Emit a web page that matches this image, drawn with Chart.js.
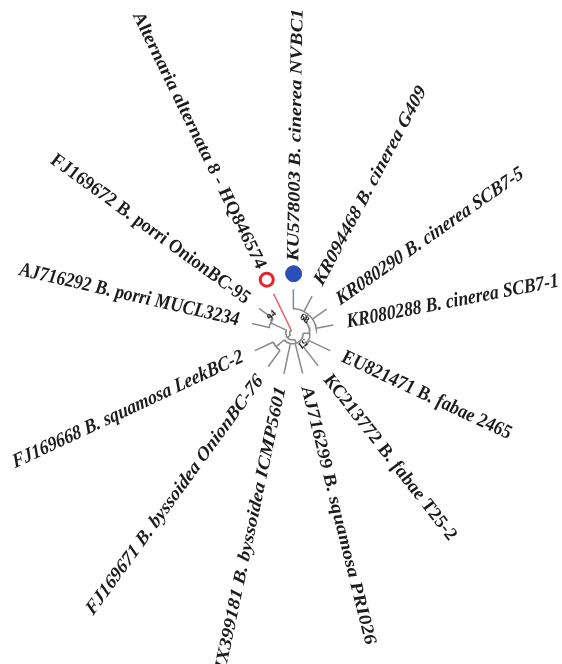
<!DOCTYPE html>
<html>
<head>
<meta charset="utf-8">
<script src="https://cdn.jsdelivr.net/npm/chart.js@4.4.1/dist/chart.umd.min.js"></script>
<style>
  html, body { margin: 0; padding: 0; background: #fff; }
  #wrap { width: 562px; height: 664px; }
</style>
</head>
<body>
<div id="wrap"><canvas id="tree" width="562" height="664"></canvas></div>
<script>
// leaves of the tree, clockwise from the top
var leafNames = [
  'KU578003 B. cinerea NVBC1',
  'KR094468 B. cinerea G409',
  'KR080290 B. cinerea SCB7-5',
  'KR080288 B. cinerea SCB7-1',
  'EU821471 B. fabae 2465',
  'KC213772 B. fabae T25-2',
  'AJ716299 B. squamosa PRI026',
  'JX399181 B. byssoidea ICMP5601',
  'FJ169671 B. byssoidea OnionBC-76',
  'FJ169668 B. squamosa LeekBC-2',
  'AJ716292 B. porri MUCL3234',
  'FJ169672 B. porri OnionBC-95',
  'Alternaria alternata 8 - HQ846574'
];
// angle of each leaf, degrees clockwise from 3 o'clock
var leafAngles = [-89, -62, -35, -11, 25, 52, 76, 102, 126, 155, 193, 216, 244];

// clades: depth from the root and their members (leaf index or clade name)
var cladeNames   = ['cinerea', 'fabae', 'byssoidea', 'core', 'porri', 'ingroup', 'root'];
var cladeDepths  = [25, 18, 22, 11, 25, 7, 3];
var cladeMembers = [[0, 1, 2, 3], [4, 5, 'cinerea'], [8, 9], [6, 7, 'byssoidea', 'fabae'],
                    [10, 11], ['core', 'porri'], ['ingroup', 12]];
var bootstrapClade = ['cinerea', 'fabae', 'porri'];
var bootstrapValue = ['68', '51', '94'];

// look
var tipDepth = 43, markedTipDepth = 45, markerDepth = 61;
var labelDepth = 57, markedLabelDepth = 74;
var textStretch = 1.17;
var branchColor = '#8a8a8a';
var bootPos = { cinerea: [-50, 19], fabae: [47, 15], porri: [220, 28] };

var rad = function(a){ return a * Math.PI / 180 }
var pt = function(r, a){ return { x: r * Math.cos(rad(a)), y: r * Math.sin(rad(a)) } }
var isMarked = function(i){ return i === 0 || i === 12 }

var cladeAngle = {}, cladeSpan = {};
function memberAngle(m){
  return typeof m === 'number' ? leafAngles[m] : cladeAngle[m];
}
function memberDepth(m){
  if (typeof m === 'number') return isMarked(m) ? markedTipDepth : tipDepth;
  return cladeDepths[cladeNames.indexOf(m)];
}
cladeNames.forEach(function(name, i){
  var angs = cladeMembers[i].map(memberAngle);
  var lo = Math.min.apply(null, angs), hi = Math.max.apply(null, angs);
  cladeSpan[name] = [lo, hi];
  cladeAngle[name] = (lo + hi) / 2;
});

var datasets = [];
function addLine(points, color, width){
  datasets.push({ data: points, showLine: true, borderColor: color, borderWidth: width || 1.5,
                  pointRadius: 0, fill: false, tension: 0 });
}

cladeNames.forEach(function(name, i){
  var d = cladeDepths[i], span = cladeSpan[name];
  var arc = [];
  for (var a = span[0]; a < span[1]; a += 2) arc.push(pt(d, a));
  arc.push(pt(d, span[1]));
  addLine(arc, branchColor);
  cladeMembers[i].forEach(function(m){
    var col = branchColor;
    if (m === 12) col = '#e8686c';
    if (m === 0) col = '#6f86c8';
    addLine([pt(d, memberAngle(m)), pt(memberDepth(m), memberAngle(m))], col);
  });
});

// the two marked strains
datasets.push({ data: [pt(markerDepth, leafAngles[0])], pointRadius: 8, pointBackgroundColor: '#2b4fb8',
                pointBorderColor: '#2b4fb8', pointBorderWidth: 1, showLine: false });
datasets.push({ data: [pt(markerDepth, leafAngles[12])], pointRadius: 6.5, pointBackgroundColor: '#fff',
                pointBorderColor: '#e3262d', pointBorderWidth: 3, showLine: false });

// draw text at (px,py) along screen angle a, stretched vertically like the source
function stretchedText(ctx, text, px, py, a){
  var phi = Math.atan2(Math.sin(a) / textStretch, Math.cos(a));
  ctx.save();
  ctx.translate(px, py);
  ctx.scale(1, textStretch);
  ctx.rotate(phi);
  ctx.fillText(text, 0, 0);
  ctx.restore();
}

var treeLabels = {
  id: 'treeLabels',
  afterDatasetsDraw: function(chart){
    var ctx = chart.ctx, xs = chart.scales.x, ys = chart.scales.y;
    ctx.save();
    ctx.fillStyle = '#1c1c1c';
    ctx.textBaseline = 'middle';
    ctx.font = 'italic bold 17.5px "Liberation Serif"';
    leafNames.forEach(function(name, i){
      var a = leafAngles[i];
      var p = pt(isMarked(i) ? markedLabelDepth : labelDepth, a);
      var left = Math.cos(rad(a)) < -0.01;
      ctx.textAlign = left ? 'right' : 'left';
      stretchedText(ctx, name, xs.getPixelForValue(p.x), ys.getPixelForValue(p.y),
                    left ? rad(a) + Math.PI : rad(a));
    });
    ctx.font = 'bold 9px "Liberation Serif"';
    ctx.textAlign = 'center';
    bootstrapClade.forEach(function(name, i){
      var pos = bootPos[name], p = pt(pos[1], pos[0]);
      stretchedText(ctx, bootstrapValue[i], xs.getPixelForValue(p.x), ys.getPixelForValue(p.y),
                    rad(pos[0]) + Math.PI / 2);
    });
    ctx.restore();
  }
};

new Chart(document.getElementById('tree').getContext('2d'), {
  type: 'scatter',
  data: { datasets: datasets },
  options: {
    responsive: false,
    animation: false,
    layout: { padding: 0 },
    plugins: { legend: { display: false }, tooltip: { enabled: false } },
    scales: {
      x: { type: 'linear', display: false, min: -293, max: 269 },
      y: { type: 'linear', display: false, min: -333, max: 331, reverse: true }
    }
  },
  plugins: [treeLabels]
});
</script>
</body>
</html>
